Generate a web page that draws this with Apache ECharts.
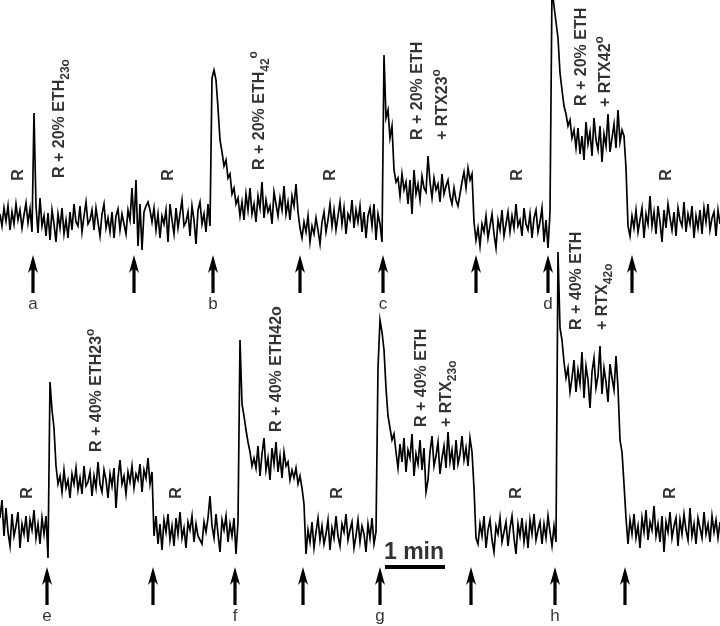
<!DOCTYPE html>
<html>
<head>
<meta charset="utf-8">
<script src="https://cdn.jsdelivr.net/npm/echarts@6/dist/echarts.min.js"></script>
<style>
  html, body { margin: 0; background: #fff; }
  #chart { width: 720px; height: 626px; }
</style>
</head>
<body>
<div id="chart"></div>
<script>
// one sample every 2 s; 1 px of the figure = 1 s (scale bar 1 min = 60 px)
const DT = 2

// top row: a-d, 20% ethanol (values = deflection above resting level)
const restTop = [4, -8, 10, -3, 12, -12, 6, -6, 14, -2, 8, -10, 3, 15, -5, 9, -14]
const appA = [105, 12, -15, 20, -8, 2, -18, 5, -22, 8, -6, -24, 4, -10, 10, -16, -2, -20, 6, -12, 14, -4, -8, 12, -14, 2, 16, -6, -2, 8, -12, 10, -4, -18, 4, 14, -10, 0, -14, 6, -20, 2, 9, -12, 4, -6, -16, 8, -2, 30]
const washA = [-6, 38, -28, 14, -32, 6, 12, 16, 8, -4, 10, -12, 4, -20, 2, -6, 8, -24, 14, -2, -16, 10, -10, 4, 18, -8, -4, 6, -18, 12, -2, -26, 8, 16, -6, 4, -14, 14, -8]
const appB = [140, 148, 138, 110, 78, 66, 52, 58, 40, 44, 24, 30, 14, 20, 2, 16, -2, 24, 8, 30, 4, 14, -4, 22, 10, 36, 0, 18, 6, 12, -6, 26, 14, 2, 20, 8, 32, 4, 16, -2, 22, 12, 34, 6]
const washB = [-10, -20, -4, -14, 2, -24, -8, -16, 0, -12, -26, -4, 6, -14, -2, 14, -8, 8, -12, 2, 16, -6, 10, -16, 4, -2, 18, -10, 8, -4, 12, -14, 6, -20, 2, 10, -8, 14, -22, 4, -6, -24]
const appC = [163, 100, 108, 80, 92, 48, 36, 40, 22, 44, 28, 36, 14, 38, 4, 48, 24, 34, 18, 42, 30, 26, 62, 36, 20, 40, 28, 34, 16, 44, 24, 32, 38, 22, 14, 30, 18, 12, 24, 36, 46, 30, 50, 38, 44]
const washC = [-4, -22, -10, -28, -6, -14, 2, -20, -8, 4, -16, -30, -2, -12, 8, -18, -6, 6, -14, 2, -10, 14, -8, -2, -18, 10, -6, -12, 4, -20, 0, 8, -14, -4, 10, -24, -2, -30, 6]
const appD = [230, 212, 196, 180, 145, 128, 112, 104, 92, 98, 80, 88, 70, 90, 64, 82, 58, 96, 74, 86, 62, 100, 78, 68, 92, 56, 84, 72, 104, 66, 80, 94, 70, 108, 76, 88, 82, 50]
const washD = [-8, -18, 2, -10, 8, -14, -2, 10, -20, 4, -6, 22, -8, 6, -16, 12, -4, -24, 8, -10, 14, 0, -12, 6, -18, 10, -2, -8, 16, -14, 4, -6, 12, -20, 2, -10, 8, -16, 10, -4, 14, -12, 0, 6, -18, 8, -6]

// bottom row: e-h, 40% ethanol
const restBottom = [10, 28, -8, 20, -4, -18, 14, -8, 2, 16, -20, 4, -6, 12, -14, 8, -2, 18, -10, 4, -16, 10, -6, 12]
const appE = [-30, 146, 118, 100, 62, 44, 52, 36, 58, 40, 48, 30, 54, 44, 60, 38, 50, 34, 62, 42, 46, 56, 32, 52, 40, 66, 44, 36, 58, 48, 30, 54, 42, 60, 20, 50, 68, 44, 52, 34, 56, 46, 62, 40, 54, 48, 64, 36, 58, 50, 70, 44, 56]
const washE = [-8, 12, -16, 4, -22, 8, -4, 14, -12, 2, -18, 10, -6, 16, -10, 0, -20, 6, -2, 12, -14, 4, -8, -8, -16, 6, -4, 10, 32, 2, -10, 14, -6, -24, 8, -2, 12, -14, 4, -8, 10]
const appF = [-26, 6, 188, 124, 112, 98, 86, 76, 62, 70, 60, 82, 52, 74, 90, 58, 70, 48, 80, 64, 86, 56, 72, 50, 76, 62, 66, 48, 58, 50, 60, 44, 52, 40]
const washF = [24, -26, -2, -14, 6, -20, -4, 10, -12, 2, -16, -6, 8, -22, 0, -10, 12, -8, -18, 4, -4, 14, -12, -2, 6, -20, -8, 8, -14, 2, -6, -24, 4, -10, 10, -16, -4]
const appG = [160, 208, 196, 178, 140, 112, 100, 88, 94, 76, 60, 84, 66, 90, 56, 78, 70, 94, 52, 74, 64, 88, 58, 80, 36, 48, 76, 92, 62, 72, 86, 54, 70, 82, 60, 96, 66, 78, 58, 88, 64, 74, 92, 68, 80, 62, 90, 76]
const washG = [40, -10, -16, 4, -8, 12, -20, -2, 8, -12, -24, 2, -6, 10, -14, -4, 6, -18, 0, 12, -10, -26, 4, -8, 10, -14, 2, -20, 8, -6, 14, -12, -2, 6, -16, 4, -10, 12, -4, -18, 2]
const appH = [-14, 276, 200, 188, 166, 150, 160, 136, 150, 168, 136, 158, 144, 176, 130, 162, 148, 120, 156, 170, 140, 152, 182, 134, 160, 146, 126, 164, 150, 138, 172, 140, 88, 76, 44, 10]
const washH = [-16, 8, -6, 14, -10, 2, -20, 10, -4, 18, -12, 6, -2, 22, -8, 4, -14, 12, -24, 6, -4, 16, -10, 2, 10, -18, 8, -6, 14, -2, -12, 20, -8, 4, -16, 10, 0, -10, 16, -6, 4, -14, 12, -4, 8, -10, 6]

// solution changes (s)
const topArrows = [33, 134, 213, 300, 383, 476, 548, 632]
const bottomArrows = [47, 153, 235, 303, 380, 471, 555, 625]
const topLetters = ['a', 'b', 'c', 'd']
const bottomLetters = ['e', 'f', 'g', 'h']
const scaleBar = [385, 445]

const topTrace = [].concat(restTop, appA, washA, appB, washB, appC, washC, appD, washD)
const bottomTrace = [].concat(restBottom, appE, washE, appF, washF, appG, washG, appH, washH)

// annotation layout: [text, x, y]
const topNotes = [
  ['R + 20% ETH{sub|23o}', 60, 40],
  ['R + 20% ETH{sub|42}{sup|o}', 260, 48],
  ['R + 20% ETH', 418, 78],
  ['+ RTX23{sup|o}', 443, 78],
  ['R + 20% ETH', 582, 112],
  ['+ RTX42{sup|o}', 606, 111]
]
const bottomNotes = [
  ['R + 40% ETH23{sup|o}', 97, 76],
  ['R + 40% ETH42o', 277, 96],
  ['R + 40% ETH', 422, 101],
  ['+ RTX{sub|23o}', 447, 101],
  ['R + 40% ETH', 577, 198],
  ['+ RTX{sub|42o}', 603, 198]
]
const topR = [19, 169, 331, 518, 667]
const bottomR = [28, 177, 338, 517, 671]

const FONT = 'Liberation Sans, Arial, sans-serif'
const ARROW = 'path://M5,0 L10,18 L6.6,14.5 L6.6,38 L3.4,38 L3.4,14.5 L0,18 Z'
const hidden = {color: 'rgba(0,0,0,0)'}

const trace = (data, idx) => ({
  type: 'line',
  xAxisIndex: idx,
  yAxisIndex: idx,
  data: data.map((v, i) => [i * DT, v]),
  showSymbol: false,
  lineStyle: {color: '#000', width: 1.7, join: 'miter'},
  z: 2
})

const arrows = (times, y, idx) => ({
  type: 'scatter',
  xAxisIndex: idx,
  yAxisIndex: idx,
  symbol: ARROW,
  symbolSize: [10, 38],
  itemStyle: {color: '#000', opacity: 1},
  data: times.map(t => [t, y])
})

const textMarks = (items, idx, label) => ({
  type: 'scatter',
  xAxisIndex: idx,
  yAxisIndex: idx,
  symbolSize: 1,
  itemStyle: hidden,
  clip: false,
  z: 5,
  data: items.map(d => ({value: [d[1], d[2]], text: d[0]})),
  label: Object.assign({
    show: true,
    position: 'inside',
    color: '#000',
    fontFamily: FONT,
    formatter: p => p.data.text
  }, label)
})

const noteLabel = {
  rotate: 90,
  align: 'left',
  verticalAlign: 'middle',
  fontSize: 16,
  fontWeight: 'bold',
  lineHeight: 24,
  rich: {
    sub: {fontSize: 12, fontFamily: FONT, color: '#000', verticalAlign: 'bottom', lineHeight: 14},
    sup: {fontSize: 12, fontFamily: FONT, color: '#000', verticalAlign: 'top', lineHeight: 14}
  }
}
const rLabel = {rotate: 90, align: 'center', verticalAlign: 'middle', fontSize: 16, fontWeight: 'bold'}
const letterLabel = {align: 'center', verticalAlign: 'middle', fontSize: 17}

const chart = echarts.init(document.getElementById('chart'))
chart.setOption({
  animation: false,
  backgroundColor: '#fff',
  grid: [
    {left: 0, right: 0, top: 0, height: 310},
    {left: 0, right: 0, top: 250, height: 376}
  ],
  xAxis: [
    {type: 'value', gridIndex: 0, min: 0, max: 720, show: false},
    {type: 'value', gridIndex: 1, min: 0, max: 720, show: false}
  ],
  yAxis: [
    {type: 'value', gridIndex: 0, min: -92, max: 218, show: false},
    {type: 'value', gridIndex: 1, min: -98, max: 278, show: false}
  ],
  series: [
    trace(topTrace, 0),
    trace(bottomTrace, 1),
    arrows(topArrows, -56, 0),
    arrows(bottomArrows, -58, 1),
    textMarks(topLetters.map((l, i) => [l, topArrows[i * 2], -86]), 0, letterLabel),
    textMarks(bottomLetters.map((l, i) => [l, bottomArrows[i * 2], -88]), 1, letterLabel),
    textMarks(topR.map(x => ['R', x, 43]), 0, rLabel),
    textMarks(bottomR.map(x => ['R', x, 35]), 1, rLabel),
    textMarks(topNotes, 0, noteLabel),
    textMarks(bottomNotes, 1, noteLabel),
    {
      type: 'line',
      xAxisIndex: 1,
      yAxisIndex: 1,
      data: scaleBar.map(t => [t, -39]),
      showSymbol: false,
      lineStyle: {color: '#000', width: 4}
    },
    textMarks([['1 min', 414, -25]], 1, {align: 'center', verticalAlign: 'middle', fontSize: 23, fontWeight: 'bold'})
  ]
})
</script>
</body>
</html>
